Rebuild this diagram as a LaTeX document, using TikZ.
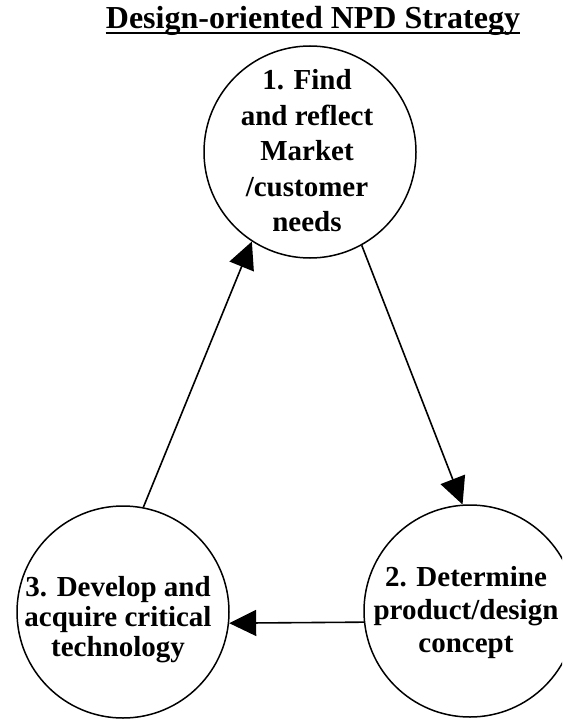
\documentclass[tikz,border=0pt]{standalone}
\usepackage{fontspec}
\setmainfont{Liberation Serif}
\usetikzlibrary{arrows.meta}

\tikzset{
  stage/.style={circle, draw, line width=1.5pt, inner sep=0pt, minimum size=212pt},
  stagetext/.style={font=\bfseries\fontsize{29}{#1}\selectfont, align=center, inner sep=0pt},
  flow/.style={line width=1.6pt, -{Triangle[length=27pt, width=26pt]}},
}

\begin{document}
\begin{tikzpicture}[x=1pt, y=-1pt]
  \useasboundingbox (0,0) rectangle (562,719);
  \begin{scope}
    \clip (0,0) rectangle (562,719);

    % heading
    \node[font=\bfseries\fontsize{32}{38}\selectfont, inner sep=0pt, anchor=base]
      (title) at (313,28.5) {Design-oriented NPD Strategy};
    \draw[line width=2pt] ([yshift=-5pt]title.base west) -- ([yshift=-5pt]title.base east);

    % the three stages
    \node[stage] (c1) at (310,152) {};
    \node[stage] (c2) at (470,611) {};
    \node[stage] (c3) at (123,612) {};

    \node[stagetext=35.5] (t1) at (307,151)
      {1. Find\\and reflect\\Market\\/customer\\needs};
    \node[stagetext=33] (t2) at (466,613)
      {2. Determine\\product/design\\concept};
    \node[stagetext=30] (t3) at (118,620)
      {3. Develop and\\acquire critical\\technology};

    % cycle
    \draw[flow] (c1.299) -- (c2.94.3);
    \draw[flow] (c2.186) -- (c3.354.6);
    \draw[flow] (c3.79.2) -- (c1.237.2);
  \end{scope}
\end{tikzpicture}
\end{document}
